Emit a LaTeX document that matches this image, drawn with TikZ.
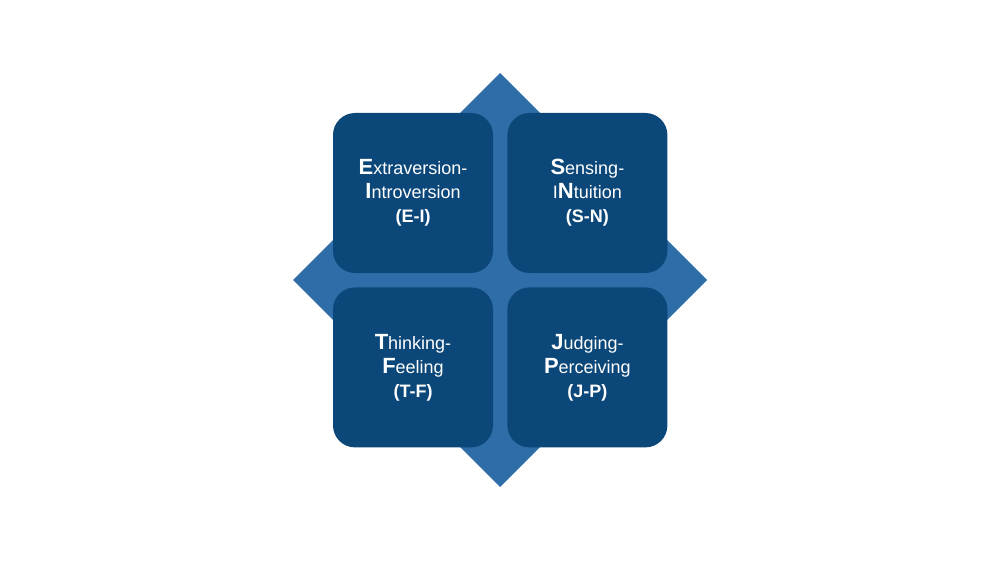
\documentclass[tikz,border=0pt]{standalone}
\usepackage{fontspec}
\setmainfont{Liberation Sans}
\usepackage{tikz}
\usetikzlibrary{positioning}
\definecolor{boxblue}{HTML}{0B4778}
\definecolor{diamondblue}{HTML}{2F6DA8}
\newcommand{\initial}[1]{{\bfseries\fontsize{22}{26}\selectfont #1}}

\begin{document}
\begin{tikzpicture}[x=1pt,y=1pt,
        pair/.style={draw=none,fill=boxblue,rounded corners=22pt,minimum size=160pt,
            text=white,align=center,font=\fontsize{18}{24}\selectfont}]
        \useasboundingbox (0,0) rectangle (1000,563);
        % diamond behind the boxes
        \fill[diamondblue] (500,490) -- (707,283) -- (500,76) -- (293,283) -- cycle;

        \node[pair] (ei) at (413,370) {\initial{E}xtraversion-\\\initial{I}ntroversion\\\textbf{(E-I)}};
        \node[pair] (sn) [right=14pt of ei] {\initial{S}ensing-\\I\initial{N}tuition\\\textbf{(S-N)}};
        \node[pair] (tf) [below=14pt of ei] {\initial{T}hinking-\\\initial{F}eeling\\\textbf{(T-F)}};
        \node[pair] (jp) [below=14pt of sn] {\initial{J}udging-\\\initial{P}erceiving\\\textbf{(J-P)}};
    \end{tikzpicture}
\end{document}
